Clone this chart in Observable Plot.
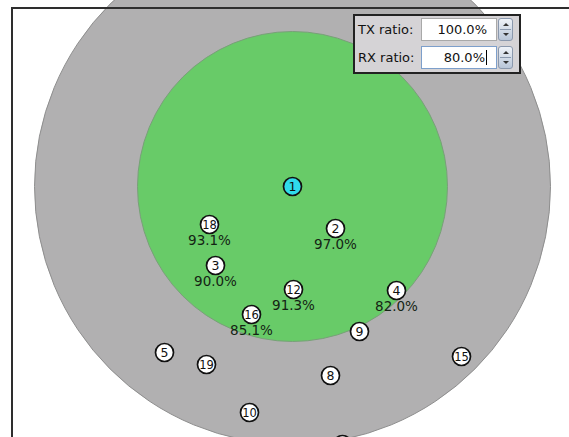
<!DOCTYPE html>
<html>
<head>
<meta charset="utf-8">
<script src="https://cdn.jsdelivr.net/npm/d3@7"></script>
<script src="https://cdn.jsdelivr.net/npm/@observablehq/plot@0.6"></script>
<style>
  body { margin: 0; background: #fff; }
  #wrap { position: relative; width: 569px; height: 437px; overflow: hidden; font-family: "DejaVu Sans", sans-serif; }
  #wrap svg { position: absolute; left: 0; top: 0; }
  .frame { position: absolute; left: 11px; top: 7px; width: 620px; height: 500px; border-top: 2px solid #2e2e2e; border-left: 2px solid #2e2e2e; }
  .panel { position: absolute; left: 353px; top: 14px; width: 168px; height: 60px; box-sizing: border-box; border: 2px solid #222; background: #d5d3d6; }
  .lbl { position: absolute; left: 3px; font-size: 13px; color: #111; line-height: 23px; height: 23px; }
  .field { position: absolute; left: 66px; width: 76px; height: 23px; box-sizing: border-box; background: #fff; border: 1px solid #a9a9a9; font-size: 13px; color: #111; text-align: right; line-height: 21px; padding-right: 9px; }
  .field.focus { border: 1px solid #7d9fcb; }
  .caret { display: inline-block; width: 1px; height: 15px; background: #000; vertical-align: -3px; margin-left: 1px; }
  .spin { position: absolute; left: 143px; width: 15px; height: 23px; box-sizing: border-box; border: 1px solid #8a98ad; border-radius: 3px; background: linear-gradient(#eef2f8, #b9c6d8); }
  .spin .mid { position: absolute; left: 1px; right: 1px; top: 10px; height: 1px; background: #8a98ad; }
  .spin .up { position: absolute; left: 4px; top: 4px; width: 0; height: 0; border-left: 3px solid transparent; border-right: 3px solid transparent; border-bottom: 3px solid #333; }
  .spin .dn { position: absolute; left: 4px; top: 14px; width: 0; height: 0; border-left: 3px solid transparent; border-right: 3px solid transparent; border-top: 3px solid #333; }
</style>
</head>
<body>
<div id="wrap"></div>
<script>
// ---- data ----
const nodeIds   = [1, 18, 2, 3, 12, 4, 16, 9, 5, 19, 8, 15, 10, null];
const nodeX     = [0, -83, 43, -77, 1, 104, -41, 67, -128, -86, 38, 169, -43, 50];
const nodeY     = [0, -38, -42, -79, -103, -104, -128, -145, -166, -178, -189, -170, -226, -258];
const rxNodes   = [18, 2, 3, 12, 4, 16];
const rxPercent = ["93.1%", "97.0%", "90.0%", "91.3%", "82.0%", "85.1%"];
const senderId  = 1;
const rangeNames = ["interference", "transmission"];
const rangeRadii = [258, 155];
const txRatioText = "100.0%";
const rxRatioText = "80.0%";

// ---- build tables ----
const nodes = nodeIds.map((id, i) => ({id, x: nodeX[i], y: nodeY[i], sender: id === senderId}));
const labels = rxNodes.map((id, i) => {
  const n = nodes.find(d => d.id === id);
  return {x: n.x, y: n.y, text: rxPercent[i]};
});
const sender = nodes.find(d => d.sender);
const ranges = rangeNames.map((name, i) => ({name, r: rangeRadii[i], x: sender.x, y: sender.y}));

const chart = Plot.plot({
  width: 569,
  height: 437,
  margin: 0,
  x: {domain: [-292, 277], axis: null},
  y: {domain: [-251, 186], axis: null},
  r: {type: "identity"},
  style: {fontFamily: "DejaVu Sans, sans-serif", background: "transparent"},
  marks: [
    Plot.dot(ranges, {x: "x", y: "y", r: "r",
      fill: d => d.name === "interference" ? "#b1b0b1" : "#68cb68",
      stroke: d => d.name === "interference" ? "#8e8e8e" : "#78a078",
      strokeWidth: 1}),
    Plot.dot(nodes, {x: "x", y: "y", r: 9,
      fill: d => d.sender ? "#2fdcec" : "#ffffff",
      stroke: "#111", strokeWidth: 1.7}),
    Plot.text(nodes.filter(d => d.id != null), {x: "x", y: "y", text: d => String(d.id),
      fontSize: d => String(d.id).length > 1 ? 11.5 : 12.5, fill: "#111", dy: 0.5}),
    Plot.text(labels, {x: "x", y: "y", text: "text", dy: 16, fontSize: 13.5, fill: "#142414"})
  ]
});

const wrap = document.getElementById("wrap");
wrap.appendChild(chart);

const frame = document.createElement("div");
frame.className = "frame";
wrap.appendChild(frame);

const panel = document.createElement("div");
panel.className = "panel";
panel.innerHTML = `
  <div class="lbl" style="top:2px">TX ratio:</div>
  <div class="field" style="top:2px">${txRatioText}</div>
  <div class="spin" style="top:2px"><div class="up"></div><div class="mid"></div><div class="dn"></div></div>
  <div class="lbl" style="top:30px">RX ratio:</div>
  <div class="field focus" style="top:30px">${rxRatioText}<span class="caret"></span></div>
  <div class="spin" style="top:30px"><div class="up"></div><div class="mid"></div><div class="dn"></div></div>
`;
wrap.appendChild(panel);
</script>
</body>
</html>
